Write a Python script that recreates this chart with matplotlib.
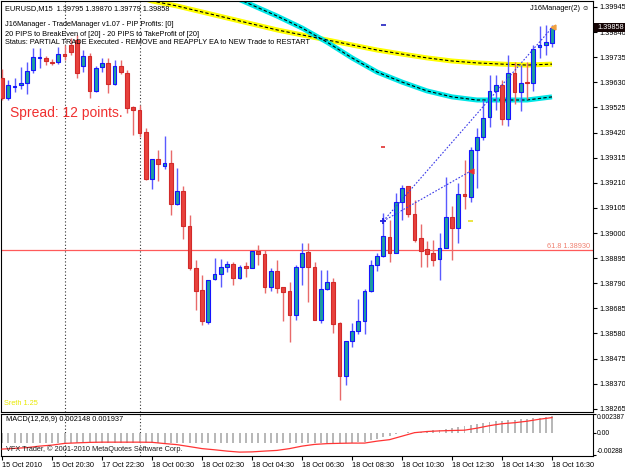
import numpy as np
import matplotlib
matplotlib.use("Agg")
import matplotlib.pyplot as plt
from matplotlib.patches import Rectangle

W, H = 625, 469

# EURUSD M15 bars (15 Oct 2010 .. 18 Oct 16:30)
opens = [1.39648, 1.39564, 1.39610, 1.39619, 1.39627, 1.39681, 1.39732, 1.39732, 1.39715, 1.39715,
         1.39748, 1.39786, 1.39807, 1.39698, 1.39740, 1.39594, 1.39694, 1.39711, 1.39623, 1.39698,
         1.39669, 1.39527, 1.39514, 1.39422, 1.39226, 1.39309, 1.39280, 1.39293, 1.39121, 1.39176,
         1.39029, 1.38854, 1.38762, 1.38628, 1.38808, 1.38829, 1.38858, 1.38870, 1.38812, 1.38862,
         1.38854, 1.38925, 1.38912, 1.38774, 1.38841, 1.38774, 1.38758, 1.38657, 1.38858, 1.38921,
         1.38858, 1.38636, 1.38766, 1.38795, 1.38624, 1.38402, 1.38549, 1.38590, 1.38632, 1.38758,
         1.38866, 1.38904, 1.38983, 1.38916, 1.39130, 1.39197, 1.39080, 1.38979, 1.38933, 1.38916,
         1.38891, 1.38937, 1.39067, 1.39021, 1.39163, 1.39151, 1.39347, 1.39401, 1.39485, 1.39594,
         1.39619, 1.39477, 1.39669, 1.39589, 1.39631, 1.39627, 1.39778, 1.39786, 1.39795]
highs = [1.39686, 1.39640, 1.39648, 1.39694, 1.39715, 1.39773, 1.39773, 1.39740, 1.39727, 1.39778,
         1.39786, 1.39815, 1.39828, 1.39765, 1.39752, 1.39698, 1.39732, 1.39732, 1.39723, 1.39723,
         1.39681, 1.39531, 1.39535, 1.39439, 1.39309, 1.39347, 1.39406, 1.39347, 1.39272, 1.39197,
         1.39075, 1.38887, 1.38825, 1.38804, 1.38896, 1.38891, 1.38883, 1.38879, 1.38866, 1.38879,
         1.38925, 1.38950, 1.38929, 1.38854, 1.38887, 1.38774, 1.38795, 1.38866, 1.38958, 1.38958,
         1.38879, 1.38845, 1.38845, 1.38812, 1.38628, 1.38549, 1.38624, 1.38724, 1.38766, 1.38887,
         1.38916, 1.39084, 1.39054, 1.39167, 1.39201, 1.39197, 1.39138, 1.39038, 1.38967, 1.38971,
         1.39000, 1.39234, 1.39113, 1.39209, 1.39305, 1.39360, 1.39439, 1.39556, 1.39661, 1.39661,
         1.39640, 1.39744, 1.39715, 1.39702, 1.39715, 1.39786, 1.39865, 1.39870, 1.39870]
lows = [1.39556, 1.39556, 1.39589, 1.39602, 1.39581, 1.39669, 1.39690, 1.39702, 1.39702, 1.39706,
        1.39723, 1.39744, 1.39648, 1.39673, 1.39564, 1.39589, 1.39673, 1.39585, 1.39619, 1.39665,
        1.39502, 1.39410, 1.39401, 1.39222, 1.39184, 1.39217, 1.39268, 1.39075, 1.39117, 1.38975,
        1.38845, 1.38678, 1.38616, 1.38620, 1.38804, 1.38774, 1.38837, 1.38783, 1.38808, 1.38816,
        1.38854, 1.38866, 1.38749, 1.38758, 1.38749, 1.38632, 1.38544, 1.38636, 1.38783, 1.38712,
        1.38636, 1.38624, 1.38762, 1.38582, 1.38302, 1.38365, 1.38524, 1.38578, 1.38578, 1.38753,
        1.38841, 1.38900, 1.38879, 1.38916, 1.39054, 1.39067, 1.38962, 1.38858, 1.38858, 1.38862,
        1.38804, 1.38937, 1.38887, 1.38958, 1.39100, 1.39130, 1.39188, 1.39389, 1.39443, 1.39514,
        1.39452, 1.39447, 1.39539, 1.39510, 1.39560, 1.39594, 1.39732, 1.39744, 1.39779]
closes = [1.39564, 1.39619, 1.39615, 1.39627, 1.39677, 1.39736, 1.39736, 1.39719, 1.39711, 1.39748,
          1.39740, 1.39757, 1.39669, 1.39740, 1.39594, 1.39690, 1.39711, 1.39623, 1.39698, 1.39673,
          1.39523, 1.39514, 1.39418, 1.39226, 1.39309, 1.39289, 1.39293, 1.39121, 1.39176, 1.39029,
          1.38854, 1.38758, 1.38632, 1.38804, 1.38829, 1.38858, 1.38870, 1.38812, 1.38858, 1.38854,
          1.38925, 1.38912, 1.38774, 1.38841, 1.38770, 1.38753, 1.38657, 1.38858, 1.38916, 1.38858,
          1.38636, 1.38766, 1.38795, 1.38620, 1.38402, 1.38549, 1.38590, 1.38632, 1.38758, 1.38866,
          1.38904, 1.38988, 1.38916, 1.39130, 1.39188, 1.39080, 1.38971, 1.38925, 1.38912, 1.38887,
          1.38937, 1.39067, 1.39021, 1.39163, 1.39155, 1.39347, 1.39401, 1.39481, 1.39594, 1.39619,
          1.39477, 1.39669, 1.39589, 1.39627, 1.39627, 1.39769, 1.39786, 1.39798, 1.39858]

# moving averages (yellow and cyan), sampled every 4 bars
ma_yellow_bars = [20, 24, 28, 32, 36, 40, 44, 48, 52, 56, 60, 64, 68, 72, 76, 80, 84, 88]
ma_yellow = [1.40003, 1.39970, 1.39949, 1.39924, 1.39899, 1.39874, 1.39849, 1.39828, 1.39807,
             1.39786, 1.39765, 1.39748, 1.39732, 1.39719, 1.39711, 1.39706, 1.39702, 1.39706]
ma_cyan_bars = [36, 40, 44, 48, 52, 56, 60, 64, 68, 72, 76, 80, 84, 88]
ma_cyan = [1.39999, 1.39953, 1.39907, 1.39857, 1.39798, 1.39732, 1.39673, 1.39631, 1.39594,
           1.39569, 1.39556, 1.39556, 1.39556, 1.39569]

# MACD(12,26,9)
macd_hist = [-0.00135, -0.00135, -0.00134, -0.00134, -0.00135, -0.00136, -0.00135, -0.00134, -0.00134, -0.00135,
             -0.00135, -0.00134, -0.00134, -0.00135, -0.00135, -0.00134, -0.00134, -0.00135, -0.00135, -0.00134,
             -0.00135, -0.00135, -0.00134, -0.00134, -0.00135, -0.00135, -0.00134, -0.00134, -0.00135, -0.00135,
             -0.00134, -0.00134, -0.00135, -0.00135, -0.00134, -0.00134, -0.00135, -0.00135, -0.00134, -0.00134,
             -0.00135, -0.00135, -0.00134, -0.00134, -0.00135, -0.00135, -0.00134, -0.00134, -0.00135, -0.00135,
             -0.00134, -0.00134, -0.00135, -0.00135, -0.00134, -0.00134, -0.00130, -0.00125, -0.00120, -0.00100,
             -0.00080, -0.00060, -0.00040, -0.00020, -0.00010, 0.00005, 0.00010, 0.00010, 0.00020, 0.00030,
             0.00040, 0.00050, 0.00060, 0.00070, 0.00080, 0.00096, 0.00110, 0.00120, 0.00134, 0.00147,
             0.00154, 0.00160, 0.00166, 0.00173, 0.00180, 0.00186, 0.00192, 0.00198, 0.002148]
signal_bars = list(range(0, 89, 2))
macd_signal = [-0.00211, -0.00202, -0.00192, -0.00173, -0.00160, -0.00138, -0.00131, -0.00125, -0.00122,
               -0.00122, -0.00122, -0.00122, -0.00124, -0.00140, -0.00154, -0.00179, -0.00205, -0.00220,
               -0.00237, -0.00250, -0.00247, -0.00237, -0.00228, -0.00205, -0.00173, -0.00151, -0.00141,
               -0.00137, -0.00134, -0.00134, -0.00109, -0.00090, -0.00045, 0.00000, 0.00015, 0.00023,
               0.00028, 0.00032, 0.00058, 0.00090, 0.00115, 0.00128, 0.00147, 0.00173, 0.001937]

price_ticks = [1.39945, 1.39840, 1.39735, 1.39630, 1.39525, 1.39420, 1.39315, 1.39210, 1.39105,
               1.39000, 1.38895, 1.38790, 1.38685, 1.38580, 1.38475, 1.38370, 1.38265]
time_ticks = list(range(0, 89, 8))
time_labels = ['15 Oct 2010', '15 Oct 20:30', '17 Oct 22:30', '18 Oct 00:30', '18 Oct 02:30',
               '18 Oct 04:30', '18 Oct 06:30', '18 Oct 08:30', '18 Oct 10:30', '18 Oct 12:30',
               '18 Oct 14:30', '18 Oct 16:30']
day_breaks = [10, 22]

fib_level = 1.38930
entry_bar, entry_price = 61, 1.39050
partial_bar, partial_price = 75, 1.39259
tp_level, sl_level = 1.39870, 1.39360
last_price = closes[-1]

FS = 5.3
plt.rcParams['font.family'] = ['Liberation Sans', 'DejaVu Sans']


def fx(x):
    return x / W


def fy(y):
    return 1 - y / H


fig = plt.figure(figsize=(W / 100, H / 100), dpi=100)
fig.patch.set_facecolor('white')
ax = fig.add_axes([fx(1), fy(412), 592 / W, 411 / H])
axm = fig.add_axes([fx(1), fy(456), 592 / W, 42 / H])

xlim = (-1 / 6.25, 591 / 6.25)

# --- main price window
for i in range(len(opens)):
    o, h, l, c = opens[i], highs[i], lows[i], closes[i]
    bull = c >= o
    ax.vlines(i, l, h, color='#5a5aff' if bull else '#e86a6a', lw=1.0, zorder=3)
    bottom = min(o, c)
    height = max(abs(c - o), 0.00003)
    ax.add_patch(Rectangle((i - 0.3, bottom), 0.6, height,
                           fc='#1c9f9f' if bull else '#e8423c',
                           ec='#1414ff' if bull else '#d22a2a', lw=0.8, zorder=4))

ax.plot(ma_yellow_bars, ma_yellow, color='#ffff00', lw=3.6, zorder=2, solid_capstyle='butt')
ax.plot(ma_yellow_bars, ma_yellow, color='black', lw=0.8, ls=(0, (3, 2)), zorder=2.1)
ax.plot(ma_cyan_bars, ma_cyan, color='#00e6e6', lw=3.6, zorder=2, solid_capstyle='butt')
ax.plot(ma_cyan_bars, ma_cyan, color='black', lw=0.8, ls=(0, (3, 2)), zorder=2.1)

ax.axhline(fib_level, color='#ff5a5a', lw=0.9, zorder=1)
ax.text(0.995, fib_level, '61.8 1.38930', transform=ax.get_yaxis_transform(),
        ha='right', va='bottom', fontsize=FS, color='#f08070')

# trade lines
ax.plot([entry_bar, len(closes) - 1], [entry_price, last_price], color='#3a3ae8', lw=0.8,
        ls=(0, (1.5, 1.5)), zorder=5)
ax.plot([entry_bar, partial_bar], [entry_price, partial_price], color='#3a3ae8', lw=0.8,
        ls=(0, (1.5, 1.5)), zorder=5)
ax.plot(entry_bar, entry_price, marker='+', color='#2020e0', ms=5, mew=1.3, zorder=6)
ax.plot(partial_bar, partial_price, marker='<', color='#e83030', ms=3.5, zorder=6)
ax.plot(len(closes) - 0.8, last_price + 0.00004, marker='<', color='#f0a040', ms=3.5, zorder=6)
ax.hlines(tp_level, entry_bar - 0.4, entry_bar + 0.4, color='#2020c0', lw=1.2, zorder=5)
ax.hlines(sl_level, entry_bar - 0.3, entry_bar + 0.3, color='#e03030', lw=1.2, zorder=5)
ax.hlines(entry_price, partial_bar - 0.4, partial_bar + 0.4, color='#e8e020', lw=1.2, zorder=5)

for b in day_breaks:
    ax.axvline(b, color='#303030', lw=0.8, ls=(0, (1, 2)), zorder=1)
    axm.axvline(b, color='#303030', lw=0.8, ls=(0, (1, 2)), zorder=1)

ax.set_xlim(*xlim)
ax.set_ylim(1.39974 - 0.0000418 * 412, 1.39974 - 0.0000418 * 1)
ax.yaxis.tick_right()
ax.set_yticks(price_ticks)
ax.set_yticklabels(['%.5f' % t for t in price_ticks])
ax.tick_params(axis='y', direction='out', length=3, width=0.8, pad=1.5, labelsize=FS, colors='black')
ax.tick_params(axis='x', bottom=False, labelbottom=False)
for s in ax.spines.values():
    s.set_linewidth(0.8)

# current price box
fig.patches.append(Rectangle((fx(594), fy(32)), 31 / W, 9 / H, transform=fig.transFigure,
                             fc='#140404', ec='none'))
fig.text(fx(597), fy(27.5), '%.5f' % last_price, color='white', fontsize=FS, va='center', ha='left')

# header texts
fig.text(fx(5), fy(8.5), 'EURUSD,M15  1.39795 1.39870 1.39779 1.39858', fontsize=FS, va='center')
fig.text(fx(5), fy(25), 'J16Manager - TradeManager v1.07 - PIP Profits: [0]', fontsize=FS, va='center')
fig.text(fx(5), fy(34), '20 PIPS to BreakEven of [20] - 20 PIPS to TakeProfit of [20]', fontsize=FS,
         va='center')
fig.text(fx(5), fy(43), 'Status: PARTIAL TRADE Executed - REMOVE and REAPPLY EA to NEW Trade to RESTART',
         fontsize=FS, va='center')
fig.text(fx(590), fy(8.5), 'J16Manager(2) \u263a', fontsize=FS, va='center', ha='right',
         family=['Liberation Sans', 'DejaVu Sans'])
fig.text(fx(10), fy(113), 'Spread: 12 points.', fontsize=10, color='#f03030', va='center')
fig.text(fx(4), fy(403), 'Sreth 1.25', fontsize=FS, color='#e8e800', va='center')

# --- MACD window
axm.bar(range(len(macd_hist)), macd_hist, width=0.32, color='#b8b8b8', zorder=2)
axm.plot(signal_bars, macd_signal, color='#ff3434', lw=0.9, zorder=3)
axm.set_xlim(*xlim)
axm.set_ylim(-0.0030, 0.0024)
axm.yaxis.tick_right()
axm.set_yticks([0.002387, 0.0, -0.00288])
axm.set_yticklabels(['0.002387', '0.00', '-0.00288'])
labs = axm.get_yticklabels()
labs[0].set_va('top')
labs[2].set_va('bottom')
axm.tick_params(axis='y', direction='out', length=2, width=0.8, pad=0.8, labelsize=4.9)
axm.set_xticks(time_ticks)
axm.set_xticklabels(time_labels)
for lab in axm.get_xticklabels():
    lab.set_ha('left')
axm.tick_params(axis='x', direction='out', length=3, width=0.8, pad=1, labelsize=FS)
for s in axm.spines.values():
    s.set_linewidth(0.8)
axm.text(0.008, 0.86, 'MACD(12,26,9) 0.002148 0.001937', transform=axm.transAxes, fontsize=FS, va='center')
axm.text(0.008, 0.16, 'VFX Trader, \u00a9 2001-2010 MetaQuotes Software Corp.', transform=axm.transAxes,
         fontsize=FS, va='center', color='#202020')

fig.savefig('out.png', dpi=100)
